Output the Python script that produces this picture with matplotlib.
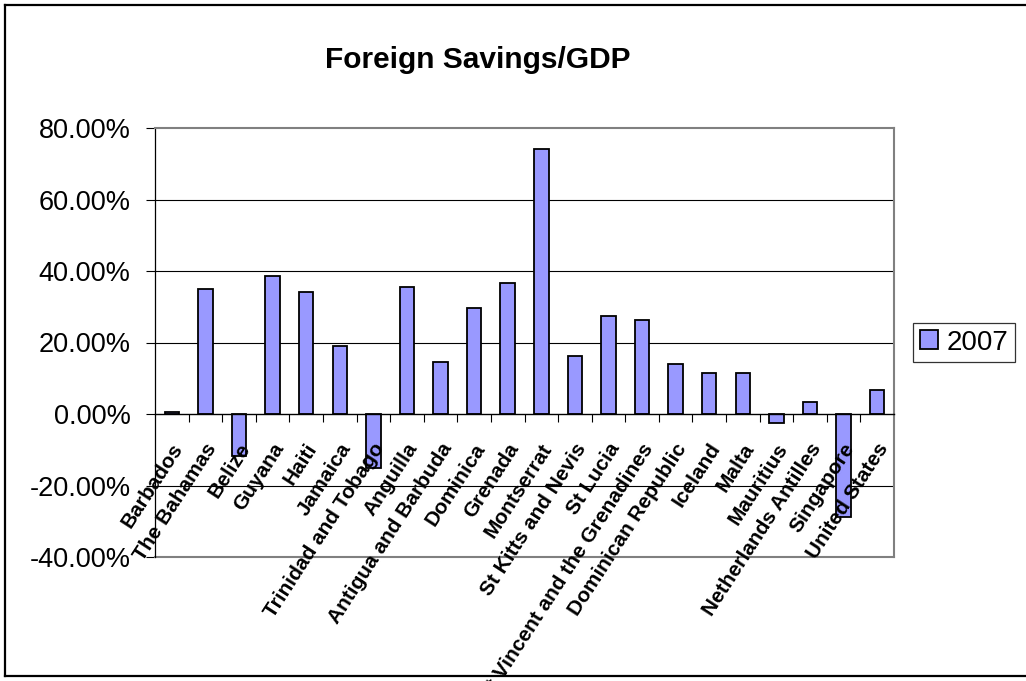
import matplotlib
matplotlib.use('Agg')
import matplotlib.pyplot as plt
import matplotlib.transforms as mtransforms
from matplotlib.lines import Line2D
from matplotlib.ticker import FixedLocator, FuncFormatter
import numpy as np

plt.rcParams['font.family'] = ['Liberation Sans', 'DejaVu Sans']

# Foreign savings as a share of GDP, 2007 (percent)
countries = ['Barbados', 'The Bahamas', 'Belize', 'Guyana', 'Haiti', 'Jamaica',
             'Trinidad and Tobago', 'Anguilla', 'Antigua and Barbuda', 'Dominica',
             'Grenada', 'Montserrat', 'St Kitts and Nevis', 'St Lucia',
             'St Vincent and the Grenadines', 'Dominican Republic', 'Iceland',
             'Malta', 'Mauritius', 'Netherlands Antilles', 'Singapore', 'United States']
values_2007 = [0.5, 35.1, -11.7, 38.5, 34.1, 19.0, -15.1, 35.5, 14.5, 29.7, 36.6,
               74.1, 16.1, 27.3, 26.3, 14.0, 11.6, 11.6, -2.4, 3.3, -28.8, 6.7]
series_name = '2007'
y_ticks = [-40, -20, 0, 20, 40, 60, 80]

W, H = 1026, 681
fig = plt.figure(figsize=(W / 100, H / 100), dpi=100)
ax = fig.add_axes([155 / W, 1 - 557 / H, (894 - 155) / W, (557 - 128) / H])

x = np.arange(len(countries))
bars = ax.bar(x, values_2007, width=0.43, color='#9999FF', edgecolor='black',
              linewidth=1.3, zorder=3, label=series_name)

ax.set_xlim(-0.5, len(countries) - 0.5)
ax.set_ylim(-40, 80)

# horizontal gridlines (frame edges drawn separately)
for yv in y_ticks[1:-1]:
    if yv != 0:
        ax.axhline(yv, color='black', lw=0.8, zorder=1)

# y axis
ax.set_yticks(y_ticks)
ax.yaxis.set_major_formatter(FuncFormatter(lambda v, p: f'{v:.2f}%'))
ax.tick_params(axis='y', direction='out', length=6.5, width=0.8, pad=11,
               labelsize=19.5, colors='black')

# plot frame
for side in ['top', 'right']:
    ax.spines[side].set_color('#808080')
    ax.spines[side].set_linewidth(1.5)
ax.spines['left'].set_color('black')
ax.spines['left'].set_linewidth(0.9)
ax.spines['bottom'].set_position(('data', 0))
ax.spines['bottom'].set_color('black')
ax.spines['bottom'].set_linewidth(1.0)
ax.spines['bottom'].set_zorder(4)
ax.plot([0, 1], [0, 0], transform=ax.transAxes, color='#808080', lw=1.5,
        clip_on=False, zorder=2)

# category ticks sit between bars; labels are placed by hand
ax.set_xticks([])
ax.xaxis.set_minor_locator(FixedLocator(np.arange(0.5, len(countries) - 0.5, 1)))
ax.tick_params(axis='x', which='minor', direction='out', length=5.5, width=0.8)

offset = mtransforms.ScaledTranslation(7 / 100, -31 / 100, fig.dpi_scale_trans)
for xi, name in zip(x, countries):
    ax.text(xi, 0, name, transform=ax.transData + offset, rotation=57,
            rotation_mode='anchor', ha='right', va='center', fontsize=15,
            fontweight='bold', zorder=6, clip_on=False)

# title
fig.text(478 / W, 1 - 68 / H, 'Foreign Savings/GDP', ha='center',
         va='baseline', fontsize=21.5, fontweight='bold')

# legend
leg = ax.legend(loc='center left', bbox_to_anchor=(913 / W, 1 - 342.5 / H),
                bbox_transform=fig.transFigure, borderaxespad=0, fontsize=20,
                frameon=True, fancybox=False, handlelength=0.65, handleheight=0.65,
                handletextpad=0.3, borderpad=0.25)
leg.get_frame().set_edgecolor('black')
leg.get_frame().set_linewidth(0.9)

# chart border
for seg in [([5 / W, 5 / W], [1 - 5 / H, 1 - 676 / H]),
            ([5 / W, 1.0], [1 - 5 / H, 1 - 5 / H]),
            ([5 / W, 1.0], [1 - 676 / H, 1 - 676 / H])]:
    fig.add_artist(Line2D(seg[0], seg[1], color='black', lw=1.6,
                          transform=fig.transFigure))

fig.savefig('out.png', dpi=100, facecolor='white')
